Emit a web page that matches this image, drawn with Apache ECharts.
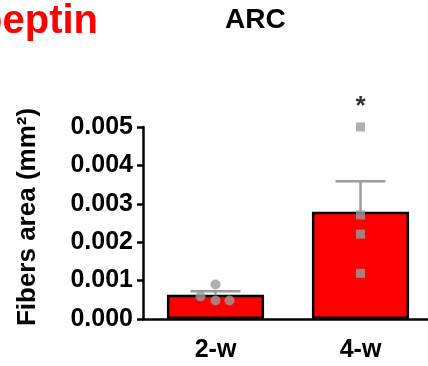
<!DOCTYPE html>
<html>
<head>
<meta charset="utf-8">
<script src="https://cdn.jsdelivr.net/npm/echarts@6/dist/echarts.min.js"></script>
<style>
  html, body { margin: 0; padding: 0; background: #fff; }
  #chart { width: 428px; height: 366px; }
</style>
</head>
<body>
<div id="chart"></div>
<script>
var categories = ['2-w', '4-w'];
var means = [0.00063, 0.00279];
var sems = [0.00009, 0.0008];
var points2w = [0.0009, 0.00059, 0.00048, 0.00048];
var points4w = [0.0050, 0.00271, 0.00221, 0.00119];
var yTicks = [0, 0.001, 0.002, 0.003, 0.004, 0.005];
var sigMark = ['', '*'];

var FONT = 'Liberation Sans, Arial, sans-serif';
// little horizontal jitter of the 2-w dots (px)
var jitter2w = [0, -15, 0, 14];

var myChart = echarts.init(document.getElementById('chart'));

var errData = categories.map(function (c, i) {
    return [i, means[i], means[i] + sems[i]];
});

var option = {
    animation: false,
    graphic: [
        {
            type: 'text', right: 330, top: 2,
            style: { text: 'Kisspeptin', fill: '#ff0000', font: 'bold 40px ' + FONT }
        },
        {
            type: 'text', left: 225, top: 6,
            style: { text: 'ARC', fill: '#000', font: 'bold 28px ' + FONT }
        }
    ],
    grid: { left: 143, right: -5, top: 127, bottom: 47, outerBoundsMode: 'none' },
    xAxis: {
        type: 'category',
        data: categories,
        axisLine: { lineStyle: { color: '#000', width: 2.5 } },
        axisTick: { show: false },
        axisLabel: { color: '#000', fontWeight: 'bold', fontSize: 25, fontFamily: FONT, margin: 19 }
    },
    yAxis: {
        type: 'value',
        min: 0, max: 0.005, interval: 0.001,
        name: 'Fibers area (mm²)',
        nameLocation: 'middle',
        nameGap: 102,
        nameTextStyle: { color: '#000', fontWeight: 'bold', fontSize: 26, fontFamily: FONT, padding: [0, 0, 0, 12] },
        splitLine: { show: false },
        axisLine: { show: true, lineStyle: { color: '#000', width: 2.5 } },
        axisTick: { show: true, length: 6, lineStyle: { color: '#000', width: 2.5 } },
        axisLabel: {
            color: '#000', fontWeight: 'bold', fontSize: 25, fontFamily: FONT, margin: 10,
            formatter: function (v) { return v.toFixed(3); }
        }
    },
    series: [
        {
            type: 'bar',
            data: means,
            barWidth: '67%',
            itemStyle: { color: '#ff0000', borderColor: '#000', borderWidth: 2.5 },
            z: 2
        },
        {
            type: 'custom',
            data: errData,
            z: 3,
            renderItem: function (params, api) {
                var lo = api.coord([api.value(0), api.value(1)]);
                var hi = api.coord([api.value(0), api.value(2)]);
                var half = 25;
                var st = { stroke: '#9b9b9b', lineWidth: 2.5 };
                return {
                    type: 'group',
                    children: [
                        { type: 'line', shape: { x1: lo[0], y1: lo[1], x2: hi[0], y2: hi[1] }, style: st },
                        { type: 'line', shape: { x1: hi[0] - half, y1: hi[1], x2: hi[0] + half, y2: hi[1] }, style: st }
                    ]
                };
            }
        },
        {
            type: 'scatter',
            z: 4,
            symbol: 'circle',
            symbolSize: 10,
            clip: false,
            itemStyle: { color: '#9b9b9b' },
            data: points2w.map(function (v, i) {
                return { value: ['2-w', v], symbolOffset: [jitter2w[i], 0] };
            })
        },
        {
            type: 'scatter',
            z: 4,
            symbol: 'rect',
            symbolSize: 9,
            clip: false,
            itemStyle: { color: '#9b9b9b' },
            data: points4w.map(function (v) { return ['4-w', v]; })
        },
        {
            type: 'scatter',
            z: 5,
            symbolSize: 0,
            clip: false,
            silent: true,
            data: categories.map(function (c, i) {
                return { value: [c, Math.max.apply(null, i === 0 ? points2w : points4w)], name: sigMark[i] };
            }).filter(function (d) { return d.name !== ''; }),
            label: {
                show: true, position: 'top', distance: 7,
                formatter: function (p) { return p.name; },
                color: '#000', fontWeight: 'bold', fontSize: 26, fontFamily: FONT
            }
        }
    ]
};

myChart.setOption(option);
</script>
</body>
</html>
